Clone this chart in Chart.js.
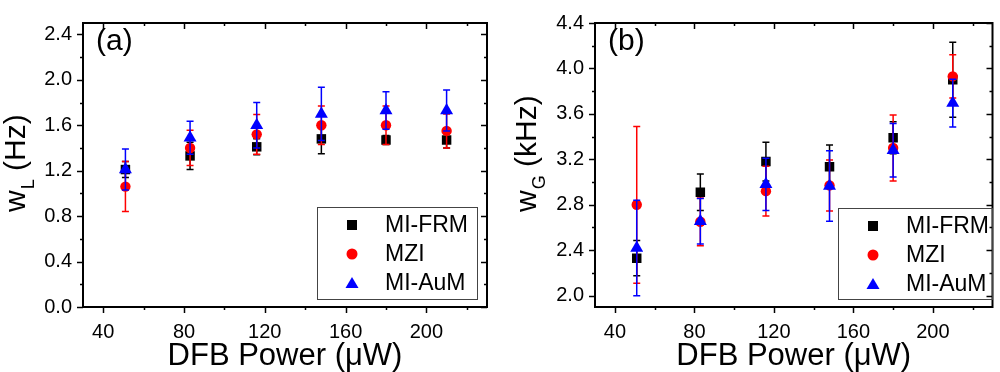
<!DOCTYPE html>
<html>
<head>
<meta charset="utf-8">
<script src="https://cdn.jsdelivr.net/npm/chart.js@4"></script>
<style>
  html, body { margin: 0; padding: 0; background: #fff; }
  #wrap { display: flex; width: 1000px; height: 372px; }
  canvas { display: block; }
</style>
</head>
<body>
<div id="wrap">
  <canvas id="panelA" width="500" height="372"></canvas>
  <canvas id="panelB" width="500" height="372"></canvas>
</div>
<script>
// DFB power (uW)
const power = [51, 83, 116, 148, 180, 210];
const seriesNames = ['MI-FRM', 'MZI', 'MI-AuM'];

// (a) Lorentzian width w_L (Hz)
const frmL = [1.21, 1.33, 1.41, 1.48, 1.47, 1.47];
const frmLErr = [0.07, 0.12, 0.07, 0.13, 0.04, 0.07];
const mziL = [1.06, 1.40, 1.52, 1.60, 1.60, 1.55];
const mziLErr = [0.22, 0.155, 0.175, 0.17, 0.17, 0.15];
const aumL = [1.21, 1.49, 1.60, 1.70, 1.73, 1.73];
const aumLErr = [0.18, 0.145, 0.2, 0.235, 0.165, 0.18];

// (b) Gaussian width w_G (kHz)
const frmG = [2.33, 2.91, 3.18, 3.135, 3.39, 3.90];
const frmGErr = [0.155, 0.16, 0.17, 0.19, 0.14, 0.33];
const mziG = [2.80, 2.65, 2.92, 2.97, 3.30, 3.93];
const mziGErr = [0.69, 0.21, 0.22, 0.225, 0.29, 0.19];
const aumG = [2.42, 2.655, 2.98, 2.965, 3.28, 3.695];
const aumGErr = [0.42, 0.2, 0.23, 0.31, 0.235, 0.21];

// ticks
const xTicks = [40, 80, 120, 160, 200];
const xMinor = [60, 100, 140, 180, 220];
const yTicksA = [0.0, 0.4, 0.8, 1.2, 1.6, 2.0, 2.4];
const yMinorA = [0.2, 0.6, 1.0, 1.4, 1.8, 2.2];
const yTicksB = [2.0, 2.4, 2.8, 3.2, 3.6, 4.0, 4.4];
const yMinorB = [2.2, 2.6, 3.0, 3.4, 3.8, 4.2];

const FONT = '"Liberation Sans", Arial, sans-serif';
const colors = ['#000000', '#ff0000', '#0000ff'];
const styles = ['rect', 'circle', 'triangle'];
const radii = [6.7, 5.2, 7.5];

function pts(ys) { return power.map((x, i) => ({ x: x, y: ys[i] })); }

// error bars: drawn just before each dataset's own markers
const errorBars = {
  id: 'errorBars',
  beforeDatasetDraw(chart, args) {
    const ds = chart.data.datasets[args.index];
    const xs = chart.scales.x, ys = chart.scales.y;
    const ctx = chart.ctx;
    ctx.save();
    ctx.strokeStyle = ds.borderColor;
    ctx.lineWidth = 1.5;
    ds.data.forEach((p, i) => {
      const e = ds.errors[i];
      const px = xs.getPixelForValue(p.x);
      const top = ys.getPixelForValue(p.y + e);
      const bot = ys.getPixelForValue(p.y - e);
      ctx.beginPath();
      ctx.moveTo(px, top); ctx.lineTo(px, bot);
      ctx.moveTo(px - 3.5, top); ctx.lineTo(px + 3.5, top);
      ctx.moveTo(px - 3.5, bot); ctx.lineTo(px + 3.5, bot);
      ctx.stroke();
    });
    ctx.restore();
  }
};

// frame, mirrored ticks, titles, panel letter and legend
const frame = {
  id: 'frame',
  afterDraw(chart, args, o) {
    const ctx = chart.ctx;
    const a = chart.chartArea;
    const xs = chart.scales.x, ys = chart.scales.y;
    ctx.save();
    ctx.strokeStyle = '#000';
    ctx.lineWidth = 1.5;
    const tick = (x1, y1, x2, y2) => { ctx.beginPath(); ctx.moveTo(x1, y1); ctx.lineTo(x2, y2); ctx.stroke(); };
    xTicks.forEach(v => { const p = Math.round(xs.getPixelForValue(v)) + 0.5; tick(p, a.bottom, p, a.bottom + 6); tick(p, a.top, p, a.top + 6); });
    xMinor.forEach(v => { const p = Math.round(xs.getPixelForValue(v)) + 0.5; tick(p, a.bottom, p, a.bottom + 3); tick(p, a.top, p, a.top + 3); });
    o.yTicks.forEach(v => { const p = Math.round(ys.getPixelForValue(v)) + 0.5; tick(a.left - 6, p, a.left, p); tick(a.right - 6, p, a.right, p); });
    o.yMinor.forEach(v => { const p = Math.round(ys.getPixelForValue(v)) + 0.5; tick(a.left - 3, p, a.left, p); tick(a.right - 3, p, a.right, p); });
    ctx.lineWidth = 2;
    ctx.strokeRect(a.left, a.top, a.right - a.left, a.bottom - a.top);

    ctx.fillStyle = '#000';
    // x title
    ctx.font = '31px ' + FONT;
    ctx.textAlign = 'center';
    ctx.textBaseline = 'alphabetic';
    ctx.fillText('DFB Power (\u03bcW)', (a.left + a.right) / 2, 365);
    // y title with subscript
    ctx.save();
    ctx.translate(o.titleX, 212);
    ctx.rotate(-Math.PI / 2);
    ctx.textAlign = 'left';
    ctx.font = '30px ' + FONT;
    ctx.fillText('w', 0, 0);
    let w = ctx.measureText('w').width;
    ctx.font = '18px ' + FONT;
    ctx.fillText(o.sub, w + 1, 9);
    w += ctx.measureText(o.sub).width + 1;
    ctx.font = '30px ' + FONT;
    ctx.fillText(' ' + o.unit, w, 0);
    ctx.restore();
    // panel letter
    ctx.font = '30px ' + FONT;
    ctx.textAlign = 'left';
    ctx.fillText(o.letter, a.left + 13, 50);

    // legend
    const L = o.legend;
    ctx.lineWidth = 1;
    ctx.strokeStyle = '#444';
    ctx.strokeRect(L.x + 0.5, L.y + 0.5, L.w, L.h);
    ctx.font = '23px ' + FONT;
    ctx.textBaseline = 'middle';
    seriesNames.forEach((name, i) => {
      const cy = L.y + 18 + i * 29;
      const cx = L.x + 35;
      ctx.fillStyle = colors[i];
      ctx.beginPath();
      if (i === 0) ctx.rect(cx - 5, cy - 5, 10, 10);
      else if (i === 1) ctx.arc(cx, cy, 5.5, 0, Math.PI * 2);
      else { ctx.moveTo(cx, cy - 6); ctx.lineTo(cx + 6.5, cy + 5); ctx.lineTo(cx - 6.5, cy + 5); ctx.closePath(); }
      ctx.fill();
      ctx.fillStyle = '#000';
      ctx.fillText(name, L.x + 68, cy + 1);
    });
    ctx.restore();
  }
};

function makePanel(id, series, errs, yMin, yMax, yTicks, yMinor, area, extra) {
  const datasets = series.map((ys, i) => ({
    label: seriesNames[i],
    data: pts(ys),
    errors: errs[i],
    pointStyle: styles[i],
    pointRadius: radii[i],
    backgroundColor: colors[i],
    borderColor: colors[i],
    borderWidth: 0,
    showLine: false,
    order: 3 - i
  }));
  return new Chart(document.getElementById(id), {
    type: 'scatter',
    data: { datasets: datasets },
    plugins: [errorBars, frame],
    options: {
      responsive: false,
      animation: false,
      devicePixelRatio: 1,
      events: [],
      layout: { padding: { left: 0, right: 500 - area.right, top: area.top, bottom: 0 } },
      plugins: {
        legend: { display: false },
        tooltip: { enabled: false },
        frame: Object.assign({ yTicks: yTicks, yMinor: yMinor }, extra)
      },
      scales: {
        x: {
          type: 'linear', min: 30, max: 230,
          afterBuildTicks: s => { s.ticks = xTicks.map(v => ({ value: v })); },
          afterFit: s => { s.height = 372 - area.bottom; },
          grid: { display: false, drawTicks: false },
          border: { display: false },
          ticks: { color: '#000', font: { family: FONT, size: 20 }, padding: 13, maxRotation: 0 }
        },
        y: {
          type: 'linear', min: yMin, max: yMax,
          afterBuildTicks: s => { s.ticks = yTicks.map(v => ({ value: v })); },
          afterFit: s => { s.width = area.left; },
          grid: { display: false, drawTicks: false },
          border: { display: false },
          ticks: { color: '#000', font: { family: FONT, size: 20 }, padding: 11, callback: v => v.toFixed(1) }
        }
      }
    }
  });
}

makePanel('panelA', [frmL, mziL, aumL], [frmLErr, mziLErr, aumLErr], 0, 2.5, yTicksA, yMinorA,
  { left: 83, right: 487, top: 9, bottom: 307 },
  { titleX: 25, sub: 'L', unit: '(Hz)', letter: '(a)', legend: { x: 317, y: 207, w: 160, h: 92 } });

makePanel('panelB', [frmG, mziG, aumG], [frmGErr, mziGErr, aumGErr], 1.9, 4.4, yTicksB, yMinorB,
  { left: 95, right: 498, top: 10, bottom: 307 },
  { titleX: 36, sub: 'G', unit: '(kHz)', letter: '(b)', legend: { x: 338, y: 208, w: 154, h: 91 } });
</script>
</body>
</html>
